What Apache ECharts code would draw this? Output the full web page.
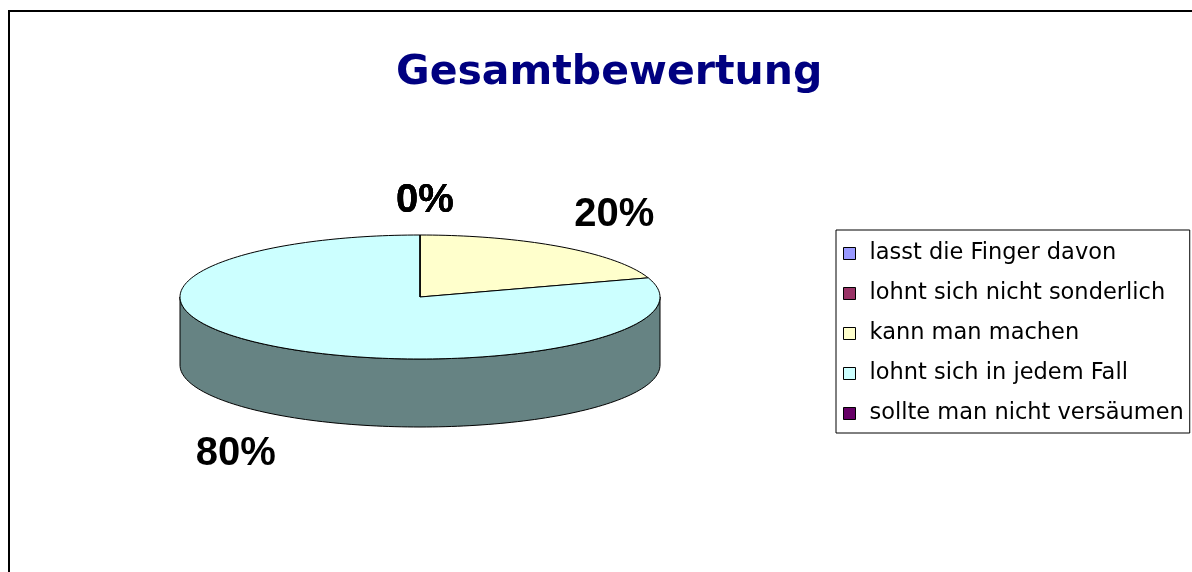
<!DOCTYPE html>
<html>
<head>
<meta charset="utf-8">
<script src="https://cdn.jsdelivr.net/npm/echarts@6/dist/echarts.min.js"></script>
<style>html,body{margin:0;padding:0;background:#fff}#chart{width:1192px;height:572px}</style>
</head>
<body>
<div id="chart"></div>
<script>
const titleText = 'Gesamtbewertung';
const categories = ['lasst die Finger davon', 'lohnt sich nicht sonderlich', 'kann man machen', 'lohnt sich in jedem Fall', 'sollte man nicht versäumen'];
const values = [0, 0, 20, 80, 0];
const colors = ['#9999FF', '#993366', '#FFFFCC', '#CCFFFF', '#660066'];

const PIE = { cx: 420, cy: 297, rx: 240, ry: 62, depth: 68 };
const total = values.reduce((a, b) => a + b, 0);

function darker(hex) {
  const n = parseInt(hex.slice(1), 16);
  const r = (n >> 16) & 255, g = (n >> 8) & 255, b = n & 255;
  return 'rgb(' + Math.round(r / 2) + ',' + Math.round(g / 2 + 3) + ',' + Math.round(b / 2 + 3) + ')';
}
function pt(deg, dy) {
  const r = deg * Math.PI / 180;
  return [PIE.cx + PIE.rx * Math.cos(r), PIE.cy - PIE.ry * Math.sin(r) + (dy || 0)];
}
function arc(a0, a1, dy) {
  const n = Math.max(1, Math.ceil(Math.abs(a0 - a1) / 1.5));
  const pts = [];
  for (let k = 0; k <= n; k++) pts.push(pt(a0 + (a1 - a0) * k / n, dy));
  return pts;
}

function makeRender(i) {
  return function (params, api) {
    const v = api.value(0);
    const before = values.slice(0, i).reduce((a, b) => a + b, 0);
    const a0 = 90 - 360 * before / total;
    const a1 = a0 - 360 * v / total;
    const children = [];
    for (const k of [-1, 0, 1]) {
      const lo = Math.max(a1, -180 + 360 * k);
      const hi = Math.min(a0, 360 * k);
      if (hi - lo > 0.01) {
        const pts = arc(hi, lo, 0).concat(arc(lo, hi, PIE.depth));
        children.push({ type: 'polygon', shape: { points: pts },
          style: { fill: darker(colors[i]), stroke: '#000', lineWidth: 1 } });
      }
    }
    children.push({ type: 'polygon', shape: { points: [[PIE.cx, PIE.cy]].concat(arc(a0, a1, 0)) },
      style: { fill: colors[i], stroke: '#000', lineWidth: 1 } });
    const mid = (a0 + a1) / 2 * Math.PI / 180;
    const s = Math.sin(mid);
    const lx = PIE.cx + 5 + (PIE.rx + 82) * Math.cos(mid);
    const ly = PIE.cy - (PIE.ry + 40) * s + (s < -1e-9 ? PIE.depth + 6 : 0) + (s > 0.99 ? 6 : 0);
    children.push({ type: 'text', z2: 10, style: {
      text: Math.round(v / total * 100) + '%', x: lx, y: ly,
      align: 'center', verticalAlign: 'middle',
      font: 'bold 40px "Liberation Sans", Arial, sans-serif', fill: '#000' } });
    return { type: 'group', children: children };
  };
}

const chart = echarts.init(document.getElementById('chart'));
chart.setOption({
  animation: false,
  backgroundColor: '#fff',
  title: {
    text: titleText, left: 396, top: 53, padding: 0,
    textStyle: { fontFamily: 'DejaVu Sans', fontWeight: 'bold', fontSize: 41, color: '#000080' }
  },
  graphic: [{ type: 'rect', silent: true, z: -1,
    shape: { x: 9, y: 11, width: 1400, height: 800 },
    style: { fill: 'none', stroke: '#000', lineWidth: 2 } }],
  legend: {
    orient: 'vertical', left: 836, top: 230,
    padding: [12, 6, 8, 7], itemWidth: 12, itemHeight: 12, itemGap: 17,
    borderColor: '#000', borderWidth: 1, icon: 'rect',
    itemStyle: { borderColor: '#000', borderWidth: 1 },
    textStyle: { fontFamily: 'DejaVu Sans', fontSize: 22.5, lineHeight: 22, color: '#000', padding: [0, 0, 0, 9] },
    data: categories
  },
  series: categories.map((name, i) => ({
    type: 'custom', name: name, coordinateSystem: 'none',
    itemStyle: { color: colors[i] },
    data: [values[i]],
    renderItem: makeRender(i)
  }))
});
</script>
</body>
</html>
